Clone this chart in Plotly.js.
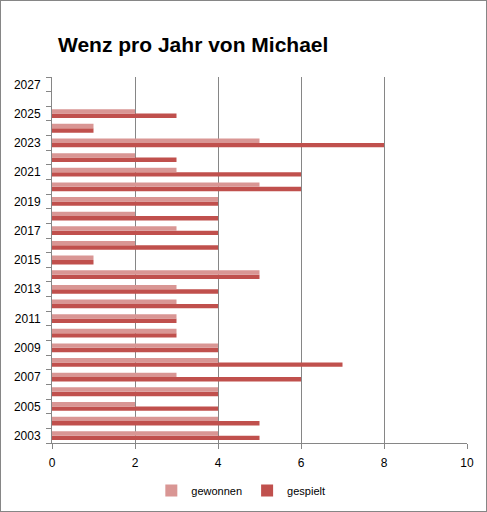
<!DOCTYPE html>
<html><head><meta charset="utf-8">
<script src="https://cdn.plot.ly/plotly-3.0.1.min.js"></script>
<style>
html,body{margin:0;padding:0;background:#fff;}
#chart{width:487px;height:512px;box-sizing:border-box;border:1px solid #868686;}
</style></head>
<body><div id="chart"></div>
<script>
var years = ["2003","2004","2005","2006","2007","2008","2009","2010","2011","2012","2013","2014","2015","2016","2017","2018","2019","2020","2021","2022","2023","2024","2025","2026","2027"];
var gewonnen = [4,4,2,4,3,4,4,3,3,3,3,5,1,2,3,2,4,5,3,2,5,1,2,null,null];
var gespielt = [5,5,4,4,6,7,4,3,3,4,4,5,1,4,4,4,4,6,6,3,8,1,3,null,null];
var xTicks = [0,2,4,6,8,10];

var traces = [
  {type:'bar', orientation:'h', name:'gespielt', y:years, x:gespielt,
   marker:{color:'#C0504D'}, legendrank:2, hoverinfo:'x+name'},
  {type:'bar', orientation:'h', name:'gewonnen', y:years, x:gewonnen,
   marker:{color:'#D99694'}, legendrank:1, hoverinfo:'x+name'}
];
var layout = {
  width:485, height:510,
  margin:{l:51, r:19, t:76, b:68, autoexpand:false},
  paper_bgcolor:'#fff', plot_bgcolor:'#fff',
  font:{family:'Liberation Sans, Arial, sans-serif', size:12, color:'#000'},
  title:{text:'<b>Wenz pro Jahr von Michael</b>', font:{size:21, color:'#000'},
         x:0, xref:'paper', xanchor:'left', y:0.915, yref:'container', yanchor:'middle', pad:{l:6}},
  barmode:'group', bargap:0.40, bargroupgap:0,
  showlegend:true,
  legend:{orientation:'h', x:0.455, xanchor:'center', xref:'paper', y:0.04, yref:'container', yanchor:'middle',
          font:{size:11}, itemwidth:30, traceorder:'normal'},
  xaxis:{range:[0,10], tickvals:xTicks, showgrid:true, gridcolor:'#868686', gridwidth:1,
         showline:true, linecolor:'#868686', ticks:'outside', ticklen:5, tickcolor:'#868686',
         ticklabelstandoff:4, zeroline:false, fixedrange:true},
  yaxis:{type:'category', categoryorder:'array', categoryarray:years,
         showline:true, linecolor:'#868686', ticks:'outside', ticklen:5, tickcolor:'#868686',
         tickson:'boundaries', ticklabelstep:2, ticklabelstandoff:8, showgrid:false, zeroline:false,
         range:[-0.5, 24.5], fixedrange:true}
};
Plotly.newPlot('chart', traces, layout, {displayModeBar:false, staticPlot:true});
</script></body></html>
